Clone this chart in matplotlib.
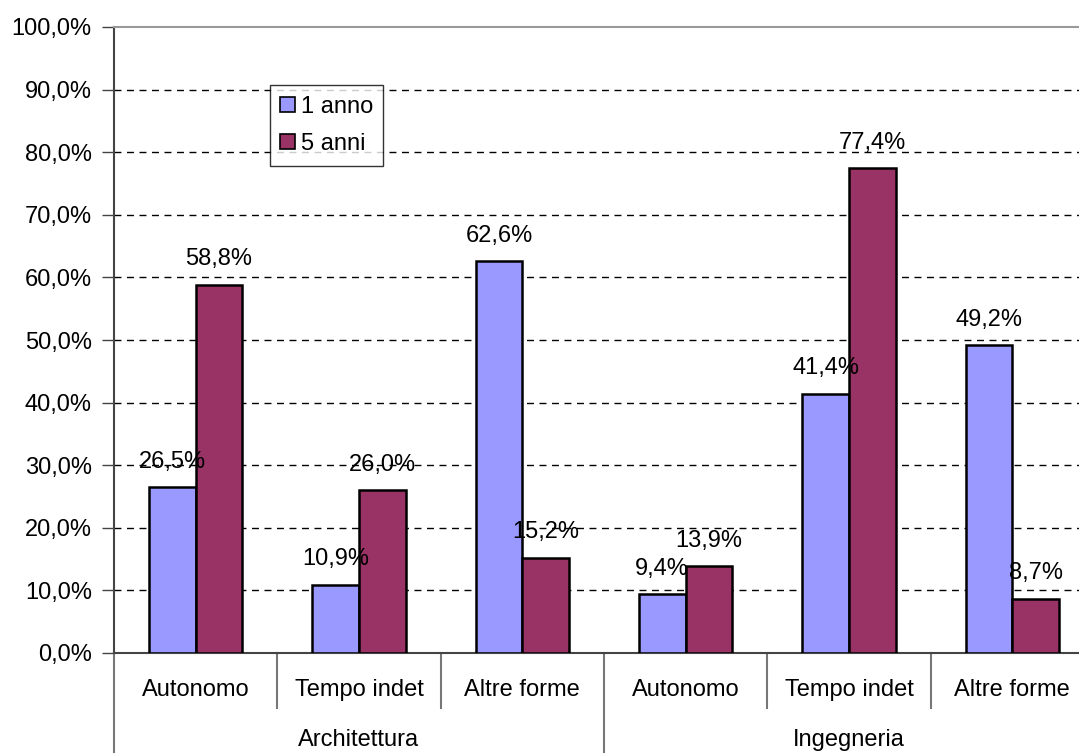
import matplotlib.pyplot as plt
import matplotlib.transforms as mtransforms
from matplotlib.patches import Patch
import numpy as np

plt.rcParams['font.family'] = ['Liberation Sans', 'DejaVu Sans']

# dati
categorie = ['Autonomo', 'Tempo indet', 'Altre forme',
             'Autonomo', 'Tempo indet', 'Altre forme']
gruppi = ['Architettura', 'Ingegneria']
anno_1 = [26.5, 10.9, 62.6, 9.4, 41.4, 49.2]
anni_5 = [58.8, 26.0, 15.2, 13.9, 77.4, 8.7]
serie = ['1 anno', '5 anni']
colori = ['#9999FF', '#993366']

FS = 17

fig = plt.figure(figsize=(10.79, 7.53), dpi=100)
ax = fig.add_axes([114 / 1079, 100 / 753, 980 / 1079, 626 / 753])

x = np.arange(len(categorie))
w = 0.286

for i, (vals, col) in enumerate(zip([anno_1, anni_5], colori)):
    pos = x + (i - 0.5) * w
    ax.bar(pos, vals, width=w, color=col, edgecolor='black',
           linewidth=1.8, zorder=3)
    for px, v in zip(pos, vals):
        ax.annotate(f"{v:.1f}%".replace('.', ','), (px, v),
                    xytext=(0, 14), textcoords='offset points',
                    ha='center', va='baseline', fontsize=FS, zorder=4)

ax.set_xlim(-0.5, len(categorie) - 0.5)
ax.set_ylim(0, 100)
ax.set_yticks(np.arange(0, 101, 10))
ax.set_yticklabels([f"{t:.1f}%".replace('.', ',') for t in range(0, 101, 10)],
                   fontsize=FS)
ax.tick_params(axis='y', direction='out', length=9, width=1, color='#444444',
               pad=7)
ax.set_xticks([])

# griglia tratteggiata
for t in range(10, 100, 10):
    ax.axhline(t, color='black', linestyle=(0, (5, 4)), linewidth=1, zorder=1)

for s in ['left', 'bottom']:
    ax.spines[s].set_color('#444444')
    ax.spines[s].set_linewidth(1.5)
ax.spines['top'].set_color('#999999')
ax.spines['top'].set_linewidth(1.5)
ax.spines['right'].set_visible(False)

# assi categorie a due livelli
trans = mtransforms.blended_transform_factory(ax.transData, ax.transAxes)
for k in range(len(categorie) + 1):
    xb = k - 0.5
    y_end = -0.16 if k % 3 == 0 else -0.088
    ax.plot([xb, xb], [0, y_end], color='#777777', linewidth=1.5,
            transform=trans, clip_on=False)
for xi, lab in zip(x, categorie):
    ax.text(xi, -0.059, lab, transform=trans, ha='center', va='center',
            fontsize=FS)
for g, lab in enumerate(gruppi):
    ax.text(g * 3 + 1, -0.139, lab, transform=trans, ha='center',
            va='center', fontsize=FS)

handles = [Patch(facecolor=c, edgecolor='black', linewidth=1.2) for c in colori]
leg = ax.legend(handles, serie, loc='upper left',
                bbox_to_anchor=(0.159, 0.907), fontsize=FS,
                frameon=True, fancybox=False, handlelength=0.6,
                handleheight=0.6, handletextpad=0.25, labelspacing=0.65,
                borderpad=0.45, borderaxespad=0)
leg.get_frame().set_edgecolor('black')
leg.get_frame().set_linewidth(1)

plt.savefig('out.png', dpi=100)
